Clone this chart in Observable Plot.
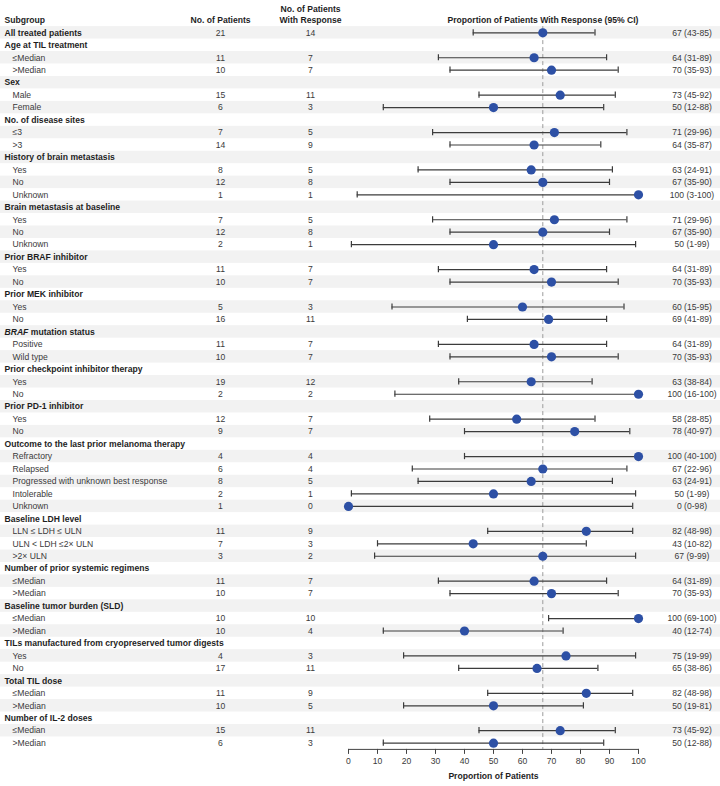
<!DOCTYPE html>
<html>
<head>
<meta charset="utf-8">
<script src="https://cdn.jsdelivr.net/npm/d3@7"></script>
<script src="https://cdn.jsdelivr.net/npm/@observablehq/plot@0.6"></script>
<style>
  html, body { margin: 0; padding: 0; background: #fff; }
  #chart svg { display: block; }
</style>
</head>
<body>
<div id="chart"></div>
<script>
// ---- Data ----
const subgroups = [
  "All treated patients",
  "Age at TIL treatment", "≤Median", ">Median",
  "Sex", "Male", "Female",
  "No. of disease sites", "≤3", ">3",
  "History of brain metastasis", "Yes", "No", "Unknown",
  "Brain metastasis at baseline", "Yes", "No", "Unknown",
  "Prior BRAF inhibitor", "Yes", "No",
  "Prior MEK inhibitor", "Yes", "No",
  "BRAF mutation status", "Positive", "Wild type",
  "Prior checkpoint inhibitor therapy", "Yes", "No",
  "Prior PD-1 inhibitor", "Yes", "No",
  "Outcome to the last prior melanoma therapy", "Refractory", "Relapsed", "Progressed with unknown best response", "Intolerable", "Unknown",
  "Baseline LDH level", "LLN ≤ LDH ≤ ULN", "ULN < LDH ≤2× ULN", ">2× ULN",
  "Number of prior systemic regimens", "≤Median", ">Median",
  "Baseline tumor burden (SLD)", "≤Median", ">Median",
  "TILs manufactured from cryopreserved tumor digests", "Yes", "No",
  "Total TIL dose", "≤Median", ">Median",
  "Number of IL-2 doses", "≤Median", ">Median"
];
// 0 = top-level (bold), 1 = indented subgroup level
const indentLevel = [
  0,
  0, 1, 1,
  0, 1, 1,
  0, 1, 1,
  0, 1, 1, 1,
  0, 1, 1, 1,
  0, 1, 1,
  0, 1, 1,
  0, 1, 1,
  0, 1, 1,
  0, 1, 1,
  0, 1, 1, 1, 1, 1,
  0, 1, 1, 1,
  0, 1, 1,
  0, 1, 1,
  0, 1, 1,
  0, 1, 1,
  0, 1, 1
];
const patients = [
  21,
  null, 11, 10,
  null, 15, 6,
  null, 7, 14,
  null, 8, 12, 1,
  null, 7, 12, 2,
  null, 11, 10,
  null, 5, 16,
  null, 11, 10,
  null, 19, 2,
  null, 12, 9,
  null, 4, 6, 8, 2, 1,
  null, 11, 7, 3,
  null, 11, 10,
  null, 10, 10,
  null, 4, 17,
  null, 11, 10,
  null, 15, 6
];
const responders = [
  14,
  null, 7, 7,
  null, 11, 3,
  null, 5, 9,
  null, 5, 8, 1,
  null, 5, 8, 1,
  null, 7, 7,
  null, 3, 11,
  null, 7, 7,
  null, 12, 2,
  null, 7, 7,
  null, 4, 4, 5, 1, 0,
  null, 9, 3, 2,
  null, 7, 7,
  null, 10, 4,
  null, 3, 11,
  null, 9, 5,
  null, 11, 3
];
const estimate = [
  67,
  null, 64, 70,
  null, 73, 50,
  null, 71, 64,
  null, 63, 67, 100,
  null, 71, 67, 50,
  null, 64, 70,
  null, 60, 69,
  null, 64, 70,
  null, 63, 100,
  null, 58, 78,
  null, 100, 67, 63, 50, 0,
  null, 82, 43, 67,
  null, 64, 70,
  null, 100, 40,
  null, 75, 65,
  null, 82, 50,
  null, 73, 50
];
const ciLow = [
  43,
  null, 31, 35,
  null, 45, 12,
  null, 29, 35,
  null, 24, 35, 3,
  null, 29, 35, 1,
  null, 31, 35,
  null, 15, 41,
  null, 31, 35,
  null, 38, 16,
  null, 28, 40,
  null, 40, 22, 24, 1, 0,
  null, 48, 10, 9,
  null, 31, 35,
  null, 69, 12,
  null, 19, 38,
  null, 48, 19,
  null, 45, 12
];
const ciHigh = [
  85,
  null, 89, 93,
  null, 92, 88,
  null, 96, 87,
  null, 91, 90, 100,
  null, 96, 90, 99,
  null, 89, 93,
  null, 95, 89,
  null, 89, 93,
  null, 84, 100,
  null, 85, 97,
  null, 100, 96, 91, 99, 98,
  null, 98, 82, 99,
  null, 89, 93,
  null, 100, 74,
  null, 99, 86,
  null, 98, 81,
  null, 92, 88
];
const xTicks = [0, 10, 20, 30, 40, 50, 60, 70, 80, 90, 100];
const referenceValue = 67;
const columnHeaders = ["Subgroup", "No. of Patients", "No. of Patients", "With Response", "Proportion of Patients With Response (95% CI)"];
const axisTitle = "Proportion of Patients";

// ---- Table built from the arrays ----
const rows = subgroups.map((label, i) => ({
  row: i + 1,
  label,
  level: indentLevel[i],
  n: patients[i],
  r: responders[i],
  est: estimate[i],
  lo: ciLow[i],
  hi: ciHigh[i]
}));
const dataRows = rows.filter(d => d.n != null);
const shadedRows = rows.filter(d => d.row % 2 === 1);

// ---- Layout ----
const W = 720, H = 786;
const ML = 348, MR = 82, MT = 26.1, MB = 37.1;
const colLabel0 = 4, colLabel1 = 12, colN = 220, colR = 310, colCI = 691.5, colTitle = 542.5;
const fs = 8.6;
const darkText = "#1e1e1e", bodyText = "#3a3a3a";

const chart = Plot.plot({
  width: W,
  height: H,
  marginLeft: ML,
  marginRight: MR,
  marginTop: MT,
  marginBottom: MB,
  style: { fontFamily: "'Liberation Sans', Arial, Helvetica, sans-serif", fontSize: fs + "px", background: "#fff", color: bodyText },
  x: { domain: [0, 100] },
  y: { domain: [0.5, subgroups.length + 0.5], reverse: true, axis: null },
  marks: [
    // alternating row shading across full width
    Plot.rect(shadedRows, { y1: d => d.row - 0.5, y2: d => d.row + 0.5, fill: "#f2f2f2", insetLeft: -ML, insetRight: -MR }),
    // reference line
    Plot.ruleX([referenceValue], { stroke: "#9c9c9c", strokeWidth: 1, strokeDasharray: "4,3" }),
    // CI bars
    Plot.ruleY(dataRows, { y: "row", x1: "lo", x2: "hi", stroke: "#3c3c3c", strokeWidth: 1.2 }),
    Plot.ruleX(dataRows, { x: "lo", y1: d => d.row - 0.25, y2: d => d.row + 0.25, stroke: "#3c3c3c", strokeWidth: 1.2 }),
    Plot.ruleX(dataRows, { x: "hi", y1: d => d.row - 0.25, y2: d => d.row + 0.25, stroke: "#3c3c3c", strokeWidth: 1.2 }),
    // point estimates
    Plot.dot(dataRows, { x: "est", y: "row", r: 4.6, fill: "#2d50a5", stroke: "none" }),
    // x axis
    Plot.frame({ anchor: "bottom", stroke: "#444" }),
    Plot.axisX({ ticks: xTicks, tickSize: 5, tickPadding: 3, label: null, fontSize: fs, stroke: "#444", color: bodyText }),
    Plot.text([axisTitle], { frameAnchor: "bottom", dy: 30, fontWeight: "bold", fontSize: fs, fill: darkText }),
    // column headers
    Plot.text([columnHeaders[0]], { frameAnchor: "top-left", dx: colLabel0 - ML, dy: 16 - MT, textAnchor: "start", fontWeight: "bold", fill: darkText }),
    Plot.text([columnHeaders[1]], { frameAnchor: "top-left", dx: colN - ML, dy: 16 - MT, textAnchor: "middle", fontWeight: "bold", fill: darkText }),
    Plot.text([columnHeaders[2]], { frameAnchor: "top-left", dx: colR - ML, dy: 5.5 - MT, textAnchor: "middle", fontWeight: "bold", fill: darkText }),
    Plot.text([columnHeaders[3]], { frameAnchor: "top-left", dx: colR - ML, dy: 16.5 - MT, textAnchor: "middle", fontWeight: "bold", fill: darkText }),
    Plot.text([columnHeaders[4]], { frameAnchor: "top-left", dx: colTitle - ML, dy: 16 - MT, textAnchor: "middle", fontWeight: "bold", fill: darkText }),
    // row labels
    Plot.text(rows.filter(d => d.level === 0), { y: "row", text: "label", frameAnchor: "left", dx: colLabel0 - ML, textAnchor: "start", fontWeight: "bold", fill: darkText }),
    Plot.text(rows.filter(d => d.level === 1), { y: "row", text: "label", frameAnchor: "left", dx: colLabel1 - ML, textAnchor: "start", fill: bodyText }),
    // counts
    Plot.text(dataRows, { y: "row", text: d => String(d.n), frameAnchor: "left", dx: colN - ML, textAnchor: "middle", fill: bodyText }),
    Plot.text(dataRows, { y: "row", text: d => String(d.r), frameAnchor: "left", dx: colR - ML, textAnchor: "middle", fill: bodyText }),
    // estimate (CI)
    Plot.text(dataRows, { y: "row", text: d => `${d.est} (${d.lo}-${d.hi})`, frameAnchor: "left", dx: colCI - ML, textAnchor: "middle", fill: bodyText })
  ]
});

// italicize the gene name "BRAF" in its heading
d3.select(chart).selectAll("text").filter(function () { return this.textContent === "BRAF mutation status"; })
  .each(function () {
    const t = d3.select(this);
    t.text(null);
    t.append("tspan").attr("font-style", "italic").text("BRAF");
    t.append("tspan").text(" mutation status");
  });

document.getElementById("chart").appendChild(chart);
</script>
</body>
</html>
